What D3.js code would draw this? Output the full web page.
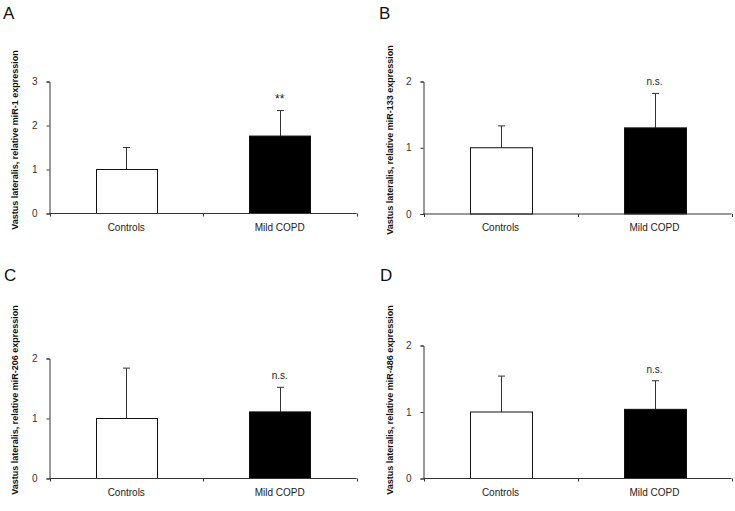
<!DOCTYPE html>
<html>
<head>
<meta charset="utf-8">
<script src="https://cdn.jsdelivr.net/npm/d3@7"></script>
<style>
  html, body { margin: 0; padding: 0; background: #fff; }
  svg { display: block; font-family: "Liberation Sans", Arial, sans-serif; }
</style>
</head>
<body>
<svg id="chart" width="735" height="511"></svg>
<script>
// ---- data ----
const categories = ["Controls", "Mild COPD"];
const panelLetters = ["A", "B", "C", "D"];
const mirNames = ["miR-1", "miR-133", "miR-206", "miR-486"];
const meansMiR1 = [1.0, 1.76];
const errsMiR1 = [0.50, 0.58];
const meansMiR133 = [1.0, 1.30];
const errsMiR133 = [0.33, 0.52];
const meansMiR206 = [1.0, 1.11];
const errsMiR206 = [0.84, 0.41];
const meansMiR486 = [1.0, 1.04];
const errsMiR486 = [0.54, 0.43];
const significance = ["**", "n.s.", "n.s.", "n.s."];
const yMaxes = [3, 2, 2, 2];

const seriesMeans = [meansMiR1, meansMiR133, meansMiR206, meansMiR486];
const seriesErrs = [errsMiR1, errsMiR133, errsMiR206, errsMiR486];
const barFills = ["#ffffff", "#000000"];

// ---- layout ----
const layout = [
  { x0: 49.5, x1: 356.5, yTop: 81.5, yZero: 213.5, letterX: 3, letterY: 19, titleX: 15, titleY: 140 },
  { x0: 423.5, x1: 731.5, yTop: 81.5, yZero: 214, letterX: 379, letterY: 19, titleX: 390, titleY: 140 },
  { x0: 49.5, x1: 356.5, yTop: 358.5, yZero: 478.5, letterX: 4, letterY: 281, titleX: 15, titleY: 400 },
  { x0: 423.5, x1: 731.5, yTop: 345.5, yZero: 478.5, letterX: 380, letterY: 281, titleX: 390, titleY: 400 }
];

const svg = d3.select("#chart");
const axisColor = "#333";

layout.forEach((L, i) => {
  const g = svg.append("g");
  const x = d3.scaleBand().domain(categories).range([L.x0, L.x1])
    .paddingInner(0.6).paddingOuter(0.3);
  const y = d3.scaleLinear().domain([0, yMaxes[i]]).range([L.yZero, L.yTop]);

  const data = categories.map((c, j) => ({ cat: c, mean: seriesMeans[i][j], err: seriesErrs[i][j], fill: barFills[j] }));

  // error bars (drawn first, behind bar)
  const eb = g.append("g").attr("stroke", axisColor).attr("stroke-width", 1);
  data.forEach(d => {
    const cx = Math.round(x(d.cat) + x.bandwidth() / 2) + 0.5;
    const yTop = y(d.mean + d.err);
    eb.append("line").attr("x1", cx).attr("x2", cx).attr("y1", y(d.mean)).attr("y2", yTop);
    eb.append("line").attr("x1", cx - 3.5).attr("x2", cx + 3.5).attr("y1", yTop).attr("y2", yTop);
  });

  // bars
  g.selectAll("rect.bar").data(data).enter().append("rect")
    .attr("class", "bar")
    .attr("x", d => Math.round(x(d.cat)) + 0.5)
    .attr("width", Math.round(x.bandwidth()))
    .attr("y", d => y(d.mean))
    .attr("height", d => y(0) - y(d.mean))
    .attr("fill", d => d.fill)
    .attr("stroke", "#111")
    .attr("stroke-width", 1);

  // y axis
  const yAxis = d3.axisLeft(y).ticks(yMaxes[i]).tickFormat(d3.format("d")).tickSize(3).tickPadding(9);
  const ya = g.append("g").attr("transform", `translate(${L.x0},0)`).call(yAxis);
  ya.select(".domain").attr("stroke", axisColor);
  ya.selectAll(".tick line").attr("stroke", axisColor);
  ya.selectAll(".tick text").attr("fill", "#333").attr("font-size", 10)
    .attr("font-family", "'Liberation Sans', Arial, sans-serif");

  // x axis with boundary ticks
  const xa = g.append("g").attr("stroke", axisColor).attr("stroke-width", 1);
  xa.append("line").attr("x1", L.x0).attr("x2", L.x1).attr("y1", L.yZero).attr("y2", L.yZero);
  const bounds = [L.x0, (L.x0 + L.x1) / 2, L.x1];
  bounds.forEach(bx => {
    const px = Math.round(bx) + 0.5;
    xa.append("line").attr("x1", px).attr("x2", px).attr("y1", L.yZero).attr("y2", L.yZero + 3);
  });

  // category labels
  g.selectAll("text.cat").data(categories).enter().append("text")
    .attr("class", "cat")
    .attr("x", d => x(d) + x.bandwidth() / 2)
    .attr("y", L.yZero + 17)
    .attr("text-anchor", "middle")
    .attr("font-size", 10)
    .attr("fill", "#222")
    .text(d => d);

  // significance
  const last = data[1];
  g.append("text")
    .attr("x", x(last.cat) + x.bandwidth() / 2)
    .attr("y", y(last.mean + last.err) - (significance[i] === "**" ? 8 : 8))
    .attr("text-anchor", "middle")
    .attr("font-size", significance[i] === "**" ? 12 : 10)
    .attr("fill", "#222")
    .text(significance[i]);

  // y title
  g.append("text")
    .attr("transform", `translate(${L.titleX},${L.titleY}) rotate(-90)`)
    .attr("text-anchor", "middle")
    .attr("dominant-baseline", "central")
    .attr("font-size", 9)
    .attr("font-weight", "bold")
    .attr("fill", "#111")
    .text(`Vastus lateralis, relative ${mirNames[i]} expression`);

  // panel letter
  g.append("text")
    .attr("x", L.letterX)
    .attr("y", L.letterY)
    .attr("font-size", 17)
    .attr("fill", "#111")
    .text(panelLetters[i]);
});
</script>
</body>
</html>
